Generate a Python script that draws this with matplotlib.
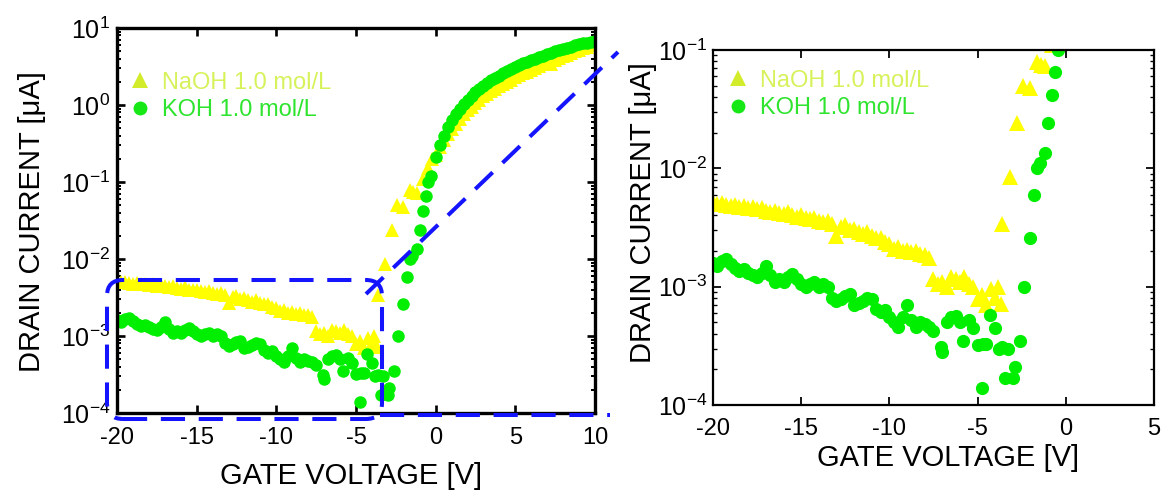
import matplotlib.pyplot as plt
import numpy as np
from matplotlib.lines import Line2D
from matplotlib.patches import FancyBboxPatch
from matplotlib.ticker import FixedLocator, FuncFormatter, LogLocator, NullFormatter

plt.rcParams['font.family'] = ['Liberation Sans', 'DejaVu Sans']
plt.rcParams['mathtext.fontset'] = 'custom'
plt.rcParams['mathtext.rm'] = 'Liberation Sans'
plt.rcParams['axes.unicode_minus'] = False

# Transfer curves: gate voltage [V] vs drain current [uA]
NAOH_V = [
    -20.0, -19.75, -19.5, -19.25, -19.0, -18.75, -18.5, -18.25, -18.0, -17.75,
    -17.5, -17.25, -17.0, -16.75, -16.5, -16.25, -16.0, -15.75, -15.5, -15.25,
    -15.0, -14.75, -14.5, -14.25, -14.0, -13.75, -13.5, -13.25, -13.0, -12.75,
    -12.5, -12.25, -12.0, -11.75, -11.5, -11.25, -11.0, -10.75, -10.5, -10.25,
    -10.0, -9.75, -9.5, -9.25, -9.0, -8.75, -8.5, -8.25, -8.0, -7.75,
    -7.5, -7.25, -7.0, -6.75, -6.5, -6.25, -6.0, -5.75, -5.5, -5.25,
    -5.0, -4.75, -4.5, -4.25, -4.0, -3.85, -3.7, -3.62, -3.16, -2.77,
    -2.43, -2.03, -1.63, -1.4, -1.18, -0.8, -0.5, -0.2,
    0.0, 0.25, 0.5, 0.75, 1.0, 1.25, 1.5, 1.75, 2.0, 2.25,
    2.5, 2.75, 3.0, 3.25, 3.5, 3.75, 4.0, 4.25, 4.5, 4.75,
    5.0, 5.25, 5.5, 5.75, 6.0, 6.25, 6.5, 6.75, 7.0, 7.25,
    7.5, 7.75, 8.0, 8.25, 8.5, 8.75, 9.0, 9.25, 9.5, 9.75, 10.0,
]
NAOH_I = [
    5.2e-3, 5.0e-3, 5.1e-3, 4.9e-3, 4.8e-3, 4.9e-3, 4.7e-3, 4.8e-3, 4.6e-3, 4.7e-3,
    4.5e-3, 4.6e-3, 4.4e-3, 4.3e-3, 4.4e-3, 4.2e-3, 4.1e-3, 4.3e-3, 4.0e-3, 3.9e-3,
    4.0e-3, 3.8e-3, 3.7e-3, 3.8e-3, 3.6e-3, 3.5e-3, 3.6e-3, 3.4e-3, 2.7e-3, 3.2e-3,
    3.3e-3, 3.0e-3, 3.1e-3, 2.9e-3, 2.8e-3, 2.9e-3, 2.7e-3, 2.6e-3, 2.6e-3, 2.4e-3,
    2.3e-3, 2.1e-3, 2.15e-3, 2.0e-3, 2.05e-3, 1.95e-3, 2.0e-3, 1.9e-3, 1.85e-3, 1.75e-3,
    1.15e-3, 1.05e-3, 1.1e-3, 1.0e-3, 1.2e-3, 1.15e-3, 1.1e-3, 1.2e-3, 1.05e-3, 1.0e-3,
    7.8e-4, 8.5e-4, 7.0e-4, 9.5e-4, 8.0e-4, 1.0e-3, 7.2e-4, 3.4e-3, 8.5e-3, 0.024,
    0.050, 0.048, 0.079, 0.074, 0.073, 0.11, 0.15, 0.20,
    0.224, 0.282, 0.347, 0.417, 0.490, 0.575, 0.661, 0.759, 0.851, 0.955,
    1.07, 1.17, 1.29, 1.41, 1.51, 1.62, 1.74, 1.86, 2.00, 2.14,
    2.29, 2.43, 2.57, 2.72, 2.88, 3.05, 3.24, 3.39, 3.55, 3.45,
    3.89, 4.07, 4.27, 4.52, 4.79, 5.01, 5.25, 5.50, 5.75, 6.03, 6.31,
]

KOH_V = [
    -20.0, -19.75, -19.5, -19.25, -19.0, -18.75, -18.5, -18.25, -18.0, -17.75,
    -17.5, -17.25, -17.0, -16.75, -16.5, -16.25, -16.0, -15.75, -15.5, -15.25,
    -15.0, -14.75, -14.5, -14.25, -14.0, -13.75, -13.5, -13.25, -13.0, -12.75,
    -12.5, -12.25, -12.0, -11.75, -11.5, -11.25, -11.0, -10.75, -10.5, -10.25,
    -10.0, -9.75, -9.5, -9.25, -9.0, -8.75, -8.5, -8.25, -8.0, -7.75,
    -7.5, -7.1, -7.0, -6.75, -6.5, -6.25, -6.0, -5.8, -5.5, -5.25,
    -5.0, -4.75, -4.7, -4.5, -4.3, -4.0, -3.8, -3.6, -3.45, -3.3,
    -3.0, -2.9, -2.6, -2.37, -2.03, -1.8, -1.63, -1.46, -1.18, -1.0,
    -0.78, -0.6, -0.45, -0.3,
    0.0, 0.25, 0.5, 0.75, 1.0, 1.25, 1.5, 1.75, 2.0, 2.25,
    2.5, 2.75, 3.0, 3.25, 3.5, 3.75, 4.0, 4.25, 4.5, 4.75,
    5.0, 5.25, 5.5, 5.75, 6.0, 6.25, 6.5, 6.75, 7.0, 7.25,
    7.5, 7.75, 8.0, 8.25, 8.5, 8.75, 9.0, 9.25, 9.5, 9.75, 10.0,
]
KOH_I = [
    1.6e-3, 1.5e-3, 1.65e-3, 1.7e-3, 1.55e-3, 1.45e-3, 1.35e-3, 1.4e-3, 1.3e-3, 1.25e-3,
    1.2e-3, 1.3e-3, 1.5e-3, 1.25e-3, 1.1e-3, 1.15e-3, 1.1e-3, 1.2e-3, 1.28e-3, 1.15e-3,
    1.05e-3, 1.0e-3, 1.05e-3, 1.1e-3, 1.0e-3, 1.05e-3, 1.0e-3, 8.0e-4, 7.5e-4, 7.8e-4,
    8.3e-4, 8.6e-4, 7.0e-4, 7.3e-4, 7.6e-4, 8.0e-4, 7.8e-4, 6.5e-4, 6.1e-4, 6.4e-4,
    5.5e-4, 5.0e-4, 4.6e-4, 5.5e-4, 7.0e-4, 5.2e-4, 4.6e-4, 5.0e-4, 4.8e-4, 4.6e-4,
    4.2e-4, 3.1e-4, 2.8e-4, 5.0e-4, 5.5e-4, 5.6e-4, 5.0e-4, 3.5e-4, 5.2e-4, 4.5e-4,
    3.2e-4, 1.4e-4, 3.3e-4, 3.3e-4, 5.8e-4, 4.5e-4, 3.0e-4, 3.1e-4, 1.7e-4, 3.0e-4,
    1.7e-4, 2.1e-4, 3.5e-4, 1.0e-3, 2.6e-3, 5.9e-3, 1.0e-2, 1.1e-2, 1.34e-2, 2.4e-2,
    4.2e-2, 6.5e-2, 0.10, 0.12,
    0.209, 0.302, 0.398, 0.513, 0.631, 0.759, 0.891, 1.02, 1.17, 1.32,
    1.48, 1.62, 1.78, 1.95, 2.09, 2.24, 2.40, 2.57, 2.75, 2.95,
    3.09, 3.31, 3.47, 3.63, 3.80, 3.98, 4.17, 4.37, 4.57, 4.79,
    5.01, 5.19, 5.37, 5.56, 5.75, 5.96, 6.17, 6.31, 6.46, 6.61, 6.76,
]

LABELS = ['NaOH 1.0 mol/L', 'KOH 1.0 mol/L']
X_TICKS_FULL = [-20, -15, -10, -5, 0, 5, 10]
X_TICKS_ZOOM = [-20, -15, -10, -5, 0, 5]

YELLOW = '#ffff00'
GREEN = '#00ee00'
BLUE = '#1414ff'


def pow10(v, pos):
    return r'$\mathregular{10^{%d}}$' % int(round(np.log10(v)))


def style_axis(ax, xticks, xlim, ylim, spine_w, xpad, ypad):
    ax.set_yscale('log')
    ax.set_xlim(*xlim)
    ax.set_ylim(*ylim)
    ax.xaxis.set_major_locator(FixedLocator(xticks))
    ax.yaxis.set_major_locator(LogLocator(base=10, numticks=10))
    ax.yaxis.set_minor_locator(LogLocator(base=10, subs=np.arange(2, 10), numticks=20))
    ax.yaxis.set_major_formatter(FuncFormatter(pow10))
    ax.yaxis.set_minor_formatter(NullFormatter())
    for s in ax.spines.values():
        s.set_linewidth(spine_w)
    ax.tick_params(which='both', direction='in', top=True, right=True, color='black')
    ax.tick_params(which='major', length=6, width=spine_w * 0.8)
    ax.tick_params(which='minor', length=3, width=spine_w * 0.6)
    ax.tick_params(axis='x', labelsize=17, pad=xpad)
    ax.tick_params(axis='y', labelsize=18, pad=ypad)


def draw_data(ax, tri_ms, dot_ms):
    ax.plot(NAOH_V, NAOH_I, ls='none', marker='^', ms=tri_ms, mew=0, color=YELLOW)
    ax.plot(KOH_V, KOH_I, ls='none', marker='o', ms=dot_ms, mew=0, color=GREEN)


def add_legend(ax, anchor):
    handles = [
        Line2D([], [], ls='none', marker='^', ms=11, mew=0, color='#d2ec2c'),
        Line2D([], [], ls='none', marker='o', ms=10, mew=0, color='#16e816'),
    ]
    ax.legend(handles, LABELS, loc='upper left', bbox_to_anchor=anchor,
              frameon=False, fontsize=17, handlelength=0.8, handletextpad=0.55,
              labelspacing=0.25, borderpad=0, borderaxespad=0,
              labelcolor=['#d6f25a', '#2ee42e'])


fig = plt.figure(figsize=(11.66, 4.9), dpi=100)
ax1 = fig.add_axes([117 / 1166, 77 / 490, 478 / 1166, 385 / 490])
ax2 = fig.add_axes([713 / 1166, 85 / 490, 441 / 1166, 355 / 490])

# full sweep
draw_data(ax1, 10.5, 9)
style_axis(ax1, X_TICKS_FULL, (-20, 10), (1e-4, 10), 2.4, 10, 5)
add_legend(ax1, (0.028, 0.887))
ax1.set_xlabel('GATE VOLTAGE [V]', fontsize=21)
ax1.set_ylabel('DRAIN CURRENT [\u03bcA]', fontsize=21)
ax1.xaxis.set_label_coords(0.49, -0.126)
ax1.yaxis.set_label_coords(-0.149, 0.496)

# off-state close-up
draw_data(ax2, 11, 9.5)
style_axis(ax2, X_TICKS_ZOOM, (-20, 5), (1e-4, 1e-1), 1.6, 9, 4)
add_legend(ax2, (0.035, 0.945))
ax2.set_xlabel('GATE VOLTAGE [V]', fontsize=21)
ax2.set_ylabel('DRAIN CURRENT [\u03bcA]', fontsize=21)
ax2.xaxis.set_label_coords(0.533, -0.111)
ax2.yaxis.set_label_coords(-0.127, 0.541)

# dashed frame around the off-state region and the guide lines to the close-up
dash = (0, (6, 3.4))
frame = FancyBboxPatch((1.07, 0.71), 2.75, 1.39,
                       boxstyle='round,pad=0,rounding_size=0.16',
                       transform=fig.dpi_scale_trans, fill=False,
                       ec=BLUE, lw=2.9, ls=dash, zorder=5)
fig.add_artist(frame)
fig.add_artist(Line2D([3.66, 6.18], [1.96, 4.38], transform=fig.dpi_scale_trans,
                      color=BLUE, lw=2.9, ls=dash, zorder=5))
fig.add_artist(Line2D([3.80, 6.10], [0.75, 0.75], transform=fig.dpi_scale_trans,
                      color=BLUE, lw=2.9, ls=dash, zorder=5))

fig.savefig('out.png', dpi=100)
